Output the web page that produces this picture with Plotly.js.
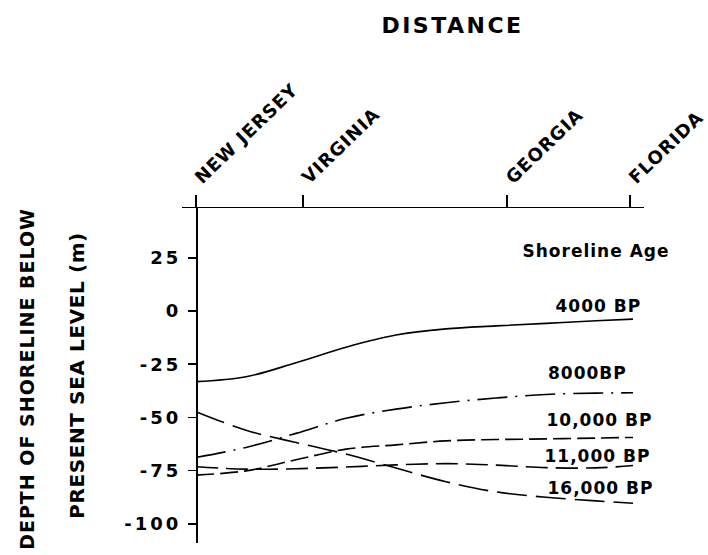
<!DOCTYPE html>
<html>
<head>
<meta charset="utf-8">
<script src="https://cdn.plot.ly/plotly-3.0.1.min.js"></script>
<style>
  html, body { margin: 0; padding: 0; background: #fff; }
  #chart { width: 708px; height: 555px; }
  text.gtitle { letter-spacing: 2.5px; }
  g.xtick text { letter-spacing: 1px; }
  g.ytick text { letter-spacing: 3px; }
  g.annotation text { letter-spacing: 1px; }
  text.ytitle { letter-spacing: 0.6px; }
</style>
</head>
<body>
<div id="chart"></div>
<script>
// Distance along the coast (arbitrary distance units, New Jersey = 0)
const distance = [0, 0.5, 1.0, 1.5, 2.0, 2.5, 3.0, 3.5, 4.0, 4.37];

// Depth of shoreline below present sea level (m), by shoreline age
const bp4000  = [-33.2, -30.9, -24.3, -17.0, -11.3, -8.4, -7.0, -5.8, -4.6, -3.8];
const bp8000  = [-68.8, -64.1, -57.5, -50.4, -46.1, -43.1, -40.9, -39.2, -38.6, -38.4];
const bp10000 = [-77.1, -75.1, -69.9, -64.9, -62.9, -61.0, -60.4, -60.1, -59.7, -59.4];
const bp11000 = [-73.2, -74.3, -74.1, -73.3, -72.3, -71.7, -72.4, -73.6, -73.7, -72.6];
const bp16000 = [-47.3, -56.0, -61.8, -67.2, -73.8, -80.2, -85.0, -87.5, -89.2, -90.3];

// Locations along the coast (top axis)
const placeNames = ['NEW JERSEY', 'VIRGINIA', 'GEORGIA', 'FLORIDA'];
const placePos   = [0, 1.07, 3.11, 4.34];

// Y ticks
const depthTicks = [25, 0, -25, -50, -75, -100];

// Series labels
const seriesNames = ['4000 BP', '8000BP', '10,000 BP', '11,000 BP', '16,000 BP'];
const legendHead = 'Shoreline Age';

const FONT = 'DejaVu Sans, Arial, sans-serif';
const series = [bp4000, bp8000, bp10000, bp11000, bp16000];
const dashes = ['solid', '30px,8px,2px,8px', '18px,6px', '22px,8px', '30px,9px'];

const traces = series.map((ys, i) => ({
  type: 'scatter',
  mode: 'lines',
  x: distance,
  y: ys,
  name: seriesNames[i],
  line: { color: '#000', width: 1.6, dash: dashes[i], shape: 'spline', smoothing: 1 },
  hoverinfo: 'skip'
}));

// label positions (layout only)
const labelX = [4.02, 3.915, 4.035, 4.015, 4.04];
const labelY = [2.5, -28.9, -51.0, -68.0, -83.2];

const annotations = seriesNames.map((t, i) => ({
  xref: 'x', yref: 'y', x: labelX[i], y: labelY[i],
  text: t, showarrow: false, xanchor: 'center', yanchor: 'middle',
  font: { family: FONT, size: 17, color: '#000', weight: 'bold' }
}));
annotations.push({
  xref: 'x', yref: 'y', x: 4.0, y: 28.4, text: legendHead, showarrow: false,
  xanchor: 'center', yanchor: 'middle',
  font: { family: FONT, size: 17, color: '#000', weight: 'bold' }
});
annotations.push({
  xref: 'paper', yref: 'paper', x: -0.3355, y: 0.49, text: 'DEPTH OF SHORELINE BELOW',
  showarrow: false, textangle: -90, xanchor: 'center', yanchor: 'middle',
  font: { family: FONT, size: 19, color: '#000', weight: 'bold' }
});

const layout = {
  width: 708, height: 555,
  paper_bgcolor: '#fff', plot_bgcolor: '#fff',
  margin: { l: 182, r: 64, t: 208, b: 12, pad: 0 },
  showlegend: false,
  title: {
    text: 'DISTANCE', x: 0.5855, xref: 'paper', xanchor: 'center',
    y: 0.955, yref: 'container', yanchor: 'middle',
    font: { family: FONT, size: 22, color: '#000', weight: 'bold' }
  },
  xaxis: {
    range: [-0.14, 4.48], side: 'top', anchor: 'y',
    showgrid: false, zeroline: false,
    showline: true, linecolor: '#000', linewidth: 1.5,
    ticks: 'outside', ticklen: 12, tickwidth: 1.5, tickcolor: '#000',
    tickmode: 'array', tickvals: placePos, ticktext: placeNames,
    tickangle: -44,
    tickfont: { family: FONT, size: 18, color: '#000', weight: 'bold' },
    automargin: false, fixedrange: true
  },
  yaxis: {
    range: [-109, 48.4], anchor: 'free', position: 14 / 462, side: 'left',
    showgrid: false, zeroline: false,
    showline: true, linecolor: '#000', linewidth: 1.5,
    ticks: 'outside', ticklen: 8, tickwidth: 1.5, tickcolor: '#000',
    tickmode: 'array', tickvals: depthTicks, ticktext: depthTicks.map(String),
    ticklabelstandoff: 3,
    tickfont: { family: FONT, size: 18, color: '#000', weight: 'bold' },
    title: {
      text: 'PRESENT SEA LEVEL (m)', standoff: 33,
      font: { family: FONT, size: 20, color: '#000', weight: 'bold' }
    },
    automargin: false, fixedrange: true
  },
  annotations: annotations
};

Plotly.newPlot('chart', traces, layout, { staticPlot: true, displayModeBar: false });
</script>
</body>
</html>
